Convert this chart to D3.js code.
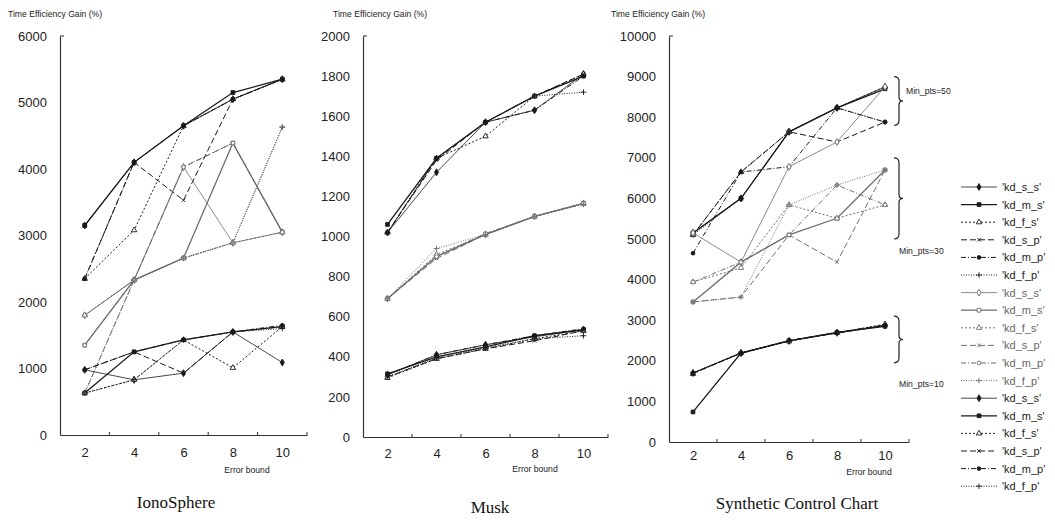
<!DOCTYPE html>
<html>
<head>
<meta charset="utf-8">
<script src="https://cdn.jsdelivr.net/npm/d3@7"></script>
<style>
  body { margin: 0; background: #fff; }
  svg { display: block; font-family: Arial, "Liberation Sans", sans-serif; }
</style>
</head>
<body>
<svg id="chart" width="1055" height="520"></svg>
<script>
// error bound values on the x axis
var errorBounds = [2, 4, 6, 8, 10];
var seriesNames = ["'kd_s_s'", "'kd_m_s'", "'kd_f_s'", "'kd_s_p'", "'kd_m_p'", "'kd_f_p'"];
var minPts = [50, 30, 10];

// IonoSphere, groups Min_pts = 50 / 30 / 10, six series each
var iono = [
  [3150, 4100, 4650, 5050, 5350],
  [3150, 4100, 4650, 5150, 5350],
  [2350, 3080, 4650, 5050, 5350],
  [2350, 4100, 3530, 5050, 5350],
  [2350, 4100, 4650, 5050, 5350],
  [1800, 2330, 2660, 2890, 4630],

  [1800, 2330, 4030, 2890, 3050],
  [1350, 2330, 2660, 4390, 3050],
  [1800, 2330, 2660, 2890, 3050],
  [630, 2330, 4030, 4390, 3050],
  [1350, 2330, 4030, 4390, 3050],
  [630, 2330, 2660, 2890, 4630],

  [980, 830, 930, 1550, 1090],
  [630, 1250, 1430, 1550, 1630],
  [630, 830, 1430, 1010, 1630],
  [980, 1250, 930, 1550, 1630],
  [980, 1250, 1430, 1550, 1650],
  [630, 830, 1430, 1550, 1600]
];

// Musk
var musk = [
  [1020, 1320, 1570, 1630, 1810],
  [1060, 1390, 1570, 1700, 1800],
  [1020, 1390, 1500, 1700, 1810],
  [1020, 1380, 1570, 1700, 1810],
  [1020, 1390, 1570, 1630, 1800],
  [1020, 1390, 1570, 1700, 1720],

  [690, 900, 1010, 1100, 1165],
  [690, 900, 1010, 1100, 1165],
  [690, 910, 1010, 1100, 1165],
  [690, 890, 1010, 1100, 1165],
  [690, 900, 1015, 1100, 1165],
  [690, 940, 1010, 1100, 1160],

  [310, 410, 460, 500, 535],
  [315, 400, 450, 505, 535],
  [295, 390, 440, 490, 530],
  [300, 390, 440, 480, 530],
  [310, 410, 460, 505, 540],
  [300, 395, 445, 490, 505]
];

// Synthetic Control Chart
var synth = [
  [5150, 6000, 7640, 8230, 8750],
  [5150, 6000, 7640, 8230, 8700],
  [5100, 6650, 7640, 8230, 8750],
  [5100, 6650, 7640, 7390, 7880],
  [4650, 6650, 6780, 8230, 7880],
  [5100, 6000, 7640, 8230, 7880],

  [5150, 4430, 6780, 7390, 8750],
  [3450, 4430, 5100, 5510, 6700],
  [3940, 4290, 5840, 5510, 5840],
  [3450, 3570, 5100, 4430, 6700],
  [3940, 4430, 5100, 6330, 5840],
  [3450, 3570, 5840, 6330, 6700],

  [1700, 2190, 2490, 2690, 2880],
  [740, 2190, 2490, 2700, 2850],
  [1680, 2200, 2480, 2690, 2900],
  [1700, 2180, 2500, 2680, 2870],
  [1690, 2190, 2500, 2700, 2880],
  [1710, 2200, 2490, 2690, 2860]
];

// value ranges the braces on the right of the last panel cover
var braceRanges = [[7800, 9000], [5000, 7000], [1950, 3100]];

var svg = d3.select("#chart");

var panels = [
  {data: iono, max: 6000, step: 1000, left: 60, right: 307, top: 36, bottom: 435, pad: 13, title: "IonoSphere", titleX: 176, titleY: 508, errX: 247, errY: 473, labelX: 8},
  {data: musk, max: 2000, step: 200, left: 363, right: 608, top: 36, bottom: 437, pad: 12, title: "Musk", titleX: 490, titleY: 513, errX: 535, errY: 472, labelX: 333},
  {data: synth, max: 10000, step: 1000, left: 669, right: 909, top: 36, bottom: 442, pad: 9, title: "Synthetic Control Chart", titleX: 797, titleY: 509, errX: 869, errY: 475, labelX: 611}
];

var dashes = [null, null, "2,2", "6,3", "5,2,1,2", "1,1.5"];
var widths = [0.8, 1.3, 1, 1, 1, 1];
var symbols = [d3.symbolDiamond, d3.symbolSquare, d3.symbolTriangle, d3.symbolX, d3.symbolCircle, d3.symbolPlus];
var sizes = [14, 14, 13, 10, 11, 12];
var groupColor = ["#1a1a1a", "#6e6e6e", "#1a1a1a"];

function markerFill(g, k) {
  if (g == 1 || k == 2) return "#fff";
  return groupColor[g];
}

panels.forEach(function(p) {
  var x = d3.scaleLinear().domain([1, 11]).range([p.left, p.right]);
  var y = d3.scaleLinear().domain([0, p.max]).range([p.bottom, p.top]);
  var g = svg.append("g");

  // y axis
  g.append("g")
    .attr("transform", "translate(" + p.left + ",0)")
    .call(d3.axisLeft(y).tickValues(d3.range(0, p.max + 1, p.step)).tickSize(0).tickPadding(13).tickFormat(d3.format("d")))
    .call(function(a) {
      a.select(".domain").attr("stroke", "#333").attr("stroke-width", 1.2);
      a.selectAll("text").attr("font-size", 13).attr("fill", "#222");
    });
  g.append("line")
    .attr("x1", p.left).attr("x2", p.left + 4)
    .attr("y1", p.top).attr("y2", p.top)
    .attr("stroke", "#333");

  // x axis
  g.append("g")
    .attr("transform", "translate(0," + p.bottom + ")")
    .call(d3.axisBottom(x).tickValues(errorBounds).tickSize(0).tickPadding(p.pad).tickFormat(d3.format("d")))
    .call(function(a) {
      a.select(".domain").attr("stroke", "#333").attr("stroke-width", 1.2);
      a.selectAll("text").attr("font-size", 13).attr("fill", "#222");
    });
  g.selectAll(".minor")
    .data([3, 5, 7, 9, 11])
    .enter().append("line")
    .attr("x1", function(d) { return x(d); }).attr("x2", function(d) { return x(d); })
    .attr("y1", p.bottom).attr("y2", p.bottom - 3)
    .attr("stroke", "#333");

  g.append("text")
    .attr("x", p.labelX).attr("y", 17)
    .attr("font-size", 8.6).attr("fill", "#222")
    .text("Time Efficiency Gain (%)");
  g.append("text")
    .attr("x", p.errX).attr("y", p.errY)
    .attr("text-anchor", "middle")
    .attr("font-size", 8.6).attr("fill", "#222")
    .text("Error bound");
  g.append("text")
    .attr("x", p.titleX).attr("y", p.titleY)
    .attr("text-anchor", "middle")
    .attr("font-family", "'Liberation Serif', 'DejaVu Serif', serif")
    .attr("font-size", 17).attr("fill", "#111")
    .text(p.title);

  var line = d3.line()
    .x(function(d, i) { return x(errorBounds[i]); })
    .y(function(d) { return y(d); });

  p.data.forEach(function(vals, s) {
    var grp = Math.floor(s / 6), k = s % 6;
    g.append("path")
      .attr("d", line(vals))
      .attr("fill", "none")
      .attr("stroke", groupColor[grp])
      .attr("stroke-width", widths[k])
      .attr("stroke-dasharray", dashes[k]);
    g.selectAll(null)
      .data(vals)
      .enter().append("path")
      .attr("d", d3.symbol().type(symbols[k]).size(sizes[k]))
      .attr("transform", function(d, i) { return "translate(" + x(errorBounds[i]) + "," + y(d) + ")"; })
      .attr("fill", markerFill(grp, k))
      .attr("stroke", groupColor[grp])
      .attr("stroke-width", 0.9);
  });

  if (p.data === synth) {
    braceRanges.forEach(function(r, i) {
      var y0 = y(r[1]), y1 = y(r[0]), ym = (y0 + y1) / 2, bx = p.right - 15;
      g.append("path")
        .attr("d", "M" + bx + "," + y0 + " Q" + (bx + 5) + "," + y0 + " " + (bx + 5) + "," + (y0 + 5) +
          " L" + (bx + 5) + "," + (ym - 4) + " Q" + (bx + 5) + "," + ym + " " + (bx + 9) + "," + ym +
          " Q" + (bx + 5) + "," + ym + " " + (bx + 5) + "," + (ym + 4) +
          " L" + (bx + 5) + "," + (y1 - 5) + " Q" + (bx + 5) + "," + y1 + " " + bx + "," + y1)
        .attr("fill", "none").attr("stroke", "#222").attr("stroke-width", 1.2);
      var lx = i == 0 ? bx + 12 : bx + 5;
      var ly = i == 0 ? y0 + 17 : y1 + 15 + (i == 2 ? 9 : 0);
      g.append("text")
        .attr("x", lx).attr("y", ly)
        .attr("font-size", 8.6).attr("fill", "#222")
        .text("Min_pts=" + minPts[i]);
    });
  }
});

// legend: six styles repeated for every Min_pts group
var legend = svg.append("g");
var legendItems = d3.range(18);
legendItems.forEach(function(s) {
  var grp = Math.floor(s / 6), k = s % 6;
  var ly = 187 + s * 17.6;
  legend.append("line")
    .attr("x1", 961).attr("x2", 997).attr("y1", ly).attr("y2", ly)
    .attr("stroke", groupColor[grp])
    .attr("stroke-width", widths[k])
    .attr("stroke-dasharray", dashes[k]);
  legend.append("path")
    .attr("d", d3.symbol().type(symbols[k]).size(sizes[k]))
    .attr("transform", "translate(979," + ly + ")")
    .attr("fill", markerFill(grp, k))
    .attr("stroke", groupColor[grp])
    .attr("stroke-width", 0.9);
  legend.append("text")
    .attr("x", 1002).attr("y", ly + 4)
    .attr("font-size", 11).attr("fill", grp == 1 ? "#666" : "#222")
    .text(seriesNames[k]);
});
</script>
</body>
</html>
